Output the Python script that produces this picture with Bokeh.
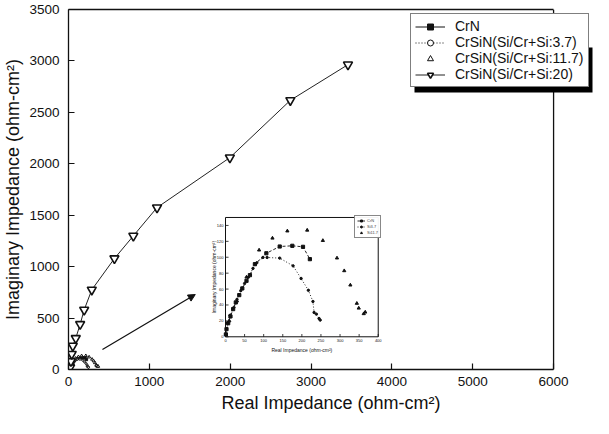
import math
from bokeh.plotting import figure
from bokeh.models import (Range1d, SingleIntervalTicker, FixedTicker, Legend, LegendItem,
                          Arrow, NormalHead, LinearAxis, Span, BoxAnnotation)
from bokeh.core.properties import value
from bokeh.embed import file_html
from bokeh.resources import INLINE

FONT = "Liberation Sans"
INK = "#111111"

# ---------------- data (ohm-cm^2) ----------------
crn_re = [1, 2.6, 7, 13, 20, 27, 36, 44, 55, 64, 77, 107, 142, 175, 203, 221]
crn_im = [3, 9.6, 17, 25.6, 34.8, 43.2, 52.4, 60.8, 70.4, 77.5, 91.3, 105, 113.5, 114.4, 113.1, 97.6]

s37_re = [1, 6, 12, 22, 30, 40, 50, 60, 72, 82, 98, 109, 142, 177, 198, 217, 229, 232, 238, 245, 248]
s37_im = [3, 17, 27, 37, 47, 58, 67, 75, 86, 93, 99.7, 99.7, 98.9, 89.2, 73.3, 58.5, 44.4, 30.6, 28.5, 23, 21]

s117_re = [10, 30, 55, 88, 123, 162, 214, 255, 292, 311, 327, 344, 349, 362, 366]
s117_im = [20, 45, 75, 109, 124, 133, 134, 121, 99, 83, 65, 42, 36, 29, 31]

s20_re = [20, 30, 40, 53, 90, 144, 194, 288, 568, 802, 1095, 1996, 2744, 3457]
s20_im = [20, 80, 150, 230, 304, 440, 580, 775, 1079, 1299, 1574, 2060, 2617, 2964]

legend_labels = ["CrN", "CrSiN(Si/Cr+Si:3.7)", "CrSiN(Si/Cr+Si:11.7)", "CrSiN(Si/Cr+Si:20)"]
inset_labels = ["CrN", "Si3.7", "Si11.7"]

x_ticks_in = [0, 50, 100, 150, 200, 250, 300, 350, 400]
y_ticks_in = [0, 20, 40, 60, 80, 100, 120, 140]

# ---------------- layout numbers ----------------
MAIN_X = (0, 6000)
MAIN_Y = (0, 3500)
FIG_W, FIG_H = 593, 418
BORDER_L, BORDER_B, BORDER_T = 67, 49, 9
AXIS_PX = 486                                  # pixels for 0..6000
X_END = MAIN_X[1] * (FIG_W - BORDER_L) / AXIS_PX  # frame runs to the canvas edge
INSET_X = (0, 400)
INSET_Y = (0, 150)
INSET_TARGET_X = (1942, 3831)
INSET_TARGET_Y = (318, 1478)
ARROW = dict(x_start=420, y_start=194, x_end=1568, y_end=729)
LEG_LOC = (342, 282)
LEG_W = 178
SHADOW = 5

p = figure(width=FIG_W, height=FIG_H, output_backend="svg", toolbar_location=None,
           x_range=Range1d(0, X_END), y_range=Range1d(*MAIN_Y),
           min_border_left=BORDER_L, min_border_right=0, min_border_top=BORDER_T,
           min_border_bottom=BORDER_B)
p.grid.visible = False
p.outline_line_color = None
p.background_fill_color = "white"
p.border_fill_color = "white"

p.xaxis.ticker = SingleIntervalTicker(interval=1000, num_minor_ticks=0)
p.yaxis.ticker = SingleIntervalTicker(interval=500, num_minor_ticks=0)
p.xaxis.bounds = MAIN_X
for ax in (p.xaxis[0], p.yaxis[0]):
    ax.major_tick_in = 6
    ax.major_tick_out = 0
    ax.minor_tick_in = 0
    ax.minor_tick_out = 0
    ax.axis_line_width = 1.3
    ax.axis_line_color = INK
    ax.major_tick_line_width = 1.2
    ax.major_tick_line_color = INK
    ax.major_label_text_font = FONT
    ax.major_label_text_font_size = "13.5px"
    ax.major_label_text_color = INK
    ax.axis_label_text_font = FONT
    ax.axis_label_text_font_size = "18px"
    ax.axis_label_text_font_style = "normal"
    ax.axis_label_text_color = INK
p.xaxis.axis_label = "Real Impedance (ohm-cm²)"
p.yaxis.axis_label = "Imaginary Impedance (ohm-cm²)"
p.xaxis.major_label_standoff = 7
p.yaxis.major_label_standoff = 9
p.xaxis.axis_label_standoff = 4
p.yaxis.axis_label_standoff = 3

# frame top (stops at 6000) and right edge at 6000
top_axis = LinearAxis(bounds=MAIN_X, ticker=FixedTicker(ticks=[]), axis_line_color=INK,
                      axis_line_width=1.3, major_tick_in=0, major_tick_out=0,
                      minor_tick_in=0, minor_tick_out=0, major_label_standoff=0)
p.add_layout(top_axis, "above")
p.add_layout(Span(location=MAIN_X[1], dimension="height", line_color=INK, line_width=1.3))

# ---------------- main plot series ----------------
m1 = p.line(crn_re, crn_im, line_color=INK, line_width=1)
m1m = p.scatter(crn_re, crn_im, marker="square", size=2.5, fill_color=INK, line_color=INK)
m2 = p.line(s37_re, s37_im, line_color=INK, line_width=1, line_dash="1 2")
m2m = p.scatter(s37_re, s37_im, marker="circle", size=2, fill_color="white", line_color=INK,
                line_width=1)
m3m = p.scatter(s117_re, s117_im, marker="triangle", size=3, fill_color="white", line_color=INK,
                line_width=1)
m4 = p.line(s20_re, s20_im, line_color="#222222", line_width=1)
m4m = p.scatter(s20_re, s20_im, marker="inverted_triangle", size=9, fill_color="white",
                line_color=INK, line_width=1.6)

arrow = Arrow(end=NormalHead(size=7, fill_color=INK, line_color=INK),
              line_color=INK, line_width=1.2, **ARROW)
p.add_layout(arrow)

# legend drop shadow (canvas pixels), drawn before the legend
leg_left = BORDER_L + LEG_LOC[0]
leg_bottom = (FIG_H - BORDER_B) - LEG_LOC[1]
p.add_layout(BoxAnnotation(left=leg_left + SHADOW, right=leg_left + LEG_W + SHADOW,
                           top=leg_bottom - 40, bottom=leg_bottom + SHADOW,
                           left_units="canvas", right_units="canvas",
                           top_units="canvas", bottom_units="canvas",
                           fill_color="black", fill_alpha=1.0, line_color=None,
                           editable=False))

groups = [[m1, m1m], [m2, m2m], [m3m], [m4, m4m]]
legend = Legend(items=[LegendItem(label=l, renderers=g) for l, g in zip(legend_labels, groups)],
                location=LEG_LOC, orientation="vertical",
                label_text_font=FONT, label_text_font_size="14px", label_text_color=INK,
                glyph_width=30, glyph_height=15, label_height=15,
                label_standoff=10, spacing=0, padding=4, margin=0,
                border_line_color="black", border_line_width=1,
                background_fill_color="white", background_fill_alpha=1.0)
p.add_layout(legend, "center")

# ---------------- inset ----------------
sub = p.subplot(x_source=Range1d(*INSET_X), y_source=Range1d(*INSET_Y),
                x_target=Range1d(*INSET_TARGET_X), y_target=Range1d(*INSET_TARGET_Y))
sub.quad(left=[INSET_X[0]], right=[INSET_X[1]], bottom=[INSET_Y[0]], top=[INSET_Y[1]],
         fill_color="white", line_color=INK, line_width=1)
sub.segment(x0=x_ticks_in, y0=[0] * len(x_ticks_in), x1=x_ticks_in, y1=[3.5] * len(x_ticks_in),
            line_color=INK, line_width=0.8)
sub.segment(x0=[0] * len(y_ticks_in), y0=y_ticks_in, x1=[8] * len(y_ticks_in), y1=y_ticks_in,
            line_color=INK, line_width=0.8)
sub.text(x=x_ticks_in, y=[0] * len(x_ticks_in), text=[str(t) for t in x_ticks_in],
         text_align="center", text_baseline="top", y_offset=2,
         text_font=value(FONT), text_font_size="4px", text_color=INK)
sub.text(x=[0] * len(y_ticks_in), y=y_ticks_in, text=[str(t) for t in y_ticks_in],
         text_align="right", text_baseline="middle", x_offset=-2,
         text_font=value(FONT), text_font_size="4px", text_color=INK)
sub.text(x=[sum(INSET_X) / 2], y=[0], text=["Real Impedance (ohm-cm²)"],
         text_align="center", text_baseline="top", y_offset=10,
         text_font=value(FONT), text_font_size="5px", text_color=INK)
sub.text(x=[0], y=[sum(INSET_Y) / 2], text=["Imaginary Impedance (ohm-cm²)"],
         angle=math.pi / 2, text_align="center", text_baseline="middle", x_offset=-12,
         text_font=value(FONT), text_font_size="5px", text_color=INK)

i1 = sub.line(crn_re, crn_im, line_color=INK, line_width=0.9, line_dash="3 2")
i1m = sub.scatter(crn_re, crn_im, marker="square", size=3.2, fill_color=INK, line_color=INK)
i2 = sub.line(s37_re, s37_im, line_color=INK, line_width=0.9, line_dash="1 2")
i2m = sub.scatter(s37_re, s37_im, marker="circle", size=2.4, fill_color=INK, line_color=INK)
i3m = sub.scatter(s117_re, s117_im, marker="triangle", size=3.2, fill_color=INK, line_color=INK)

inset_legend = Legend(items=[LegendItem(label=inset_labels[0], renderers=[i1, i1m]),
                             LegendItem(label=inset_labels[1], renderers=[i2, i2m]),
                             LegendItem(label=inset_labels[2], renderers=[i3m])],
                      location=(286, 131), label_text_font=FONT, label_text_font_size="4px",
                      glyph_width=8, glyph_height=5, label_height=5, label_width=10,
                      label_standoff=2, spacing=1, padding=2, margin=0,
                      border_line_color=INK, border_line_width=0.8,
                      background_fill_color="white")
p.add_layout(inset_legend, "center")

open("out.html", "w").write(file_html(p, INLINE))
